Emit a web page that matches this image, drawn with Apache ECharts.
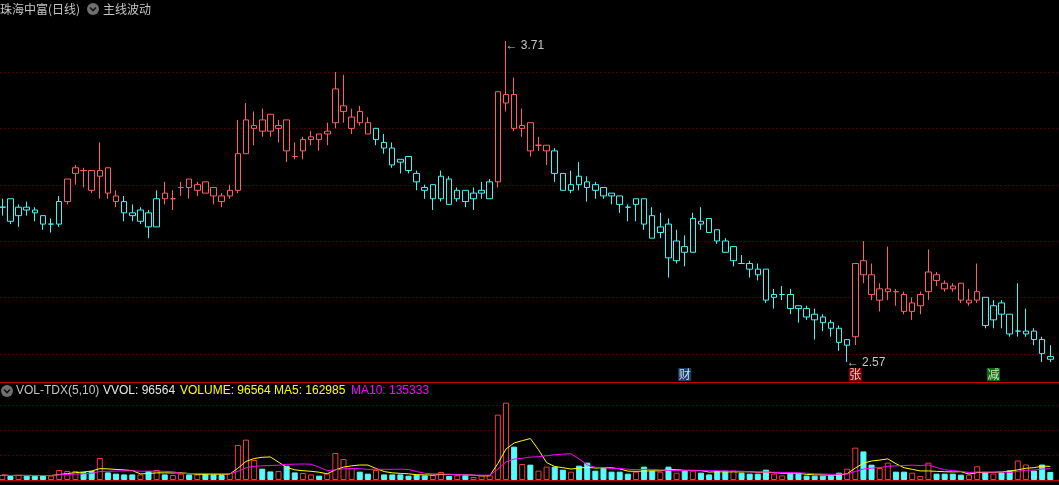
<!DOCTYPE html>
<html><head><meta charset="utf-8">
<script src="https://cdn.jsdelivr.net/npm/echarts@6/dist/echarts.min.js"></script>
<style>html,body{margin:0;padding:0;background:#000;overflow:hidden}#c{width:1059px;height:485px;}</style>
</head><body><div id="c"></div>
<script>
// ---- data (price in yuan, volume in shares) ----
const open = [3.12,3.15,3.09,3.12,3.11,3.09,3.06,3.06,3.14,3.24, 3.25,3.25,3.23,3.26,3.16,3.14,3.10,3.07,3.10,3.05,
  3.17,3.15,3.19,3.22,3.18,3.21,3.19,3.16,3.16,3.18, 3.31,3.40,3.43,3.45,3.40,3.43,3.30,3.32,3.36,3.38,
  3.38,3.42,3.46,3.40,3.46,3.42,3.36,3.35,3.33,3.29, 3.30,3.24,3.19,3.15,3.15,3.22,3.15,3.18,3.15,3.17,
  3.15,3.21,3.49,3.52,3.40,3.42,3.34,3.32,3.32,3.24, 3.18,3.23,3.21,3.20,3.19,3.17,3.16,3.12,3.13,3.15,
  3.09,3.03,3.06,2.93,2.98,2.96,3.07,3.08,3.04,3.00, 2.93,2.92,2.92,2.90,2.90,2.80,2.81,2.81,2.77,2.76,
  2.74,2.73,2.71,2.69,2.63,2.66,2.93,2.88,2.79,2.82, 2.82,2.81,2.75,2.77,2.82,2.88,2.85,2.84,2.85,2.78,
  2.79,2.80,2.72,2.78,2.74,2.68,2.67,2.68,2.65,2.59];
const close = [3.12,3.07,3.12,3.11,3.10,3.06,3.06,3.14,3.22,3.26, 3.25,3.18,3.25,3.17,3.14,3.10,3.09,3.11,3.05,3.15,
  3.15,3.15,3.19,3.19,3.20,3.17,3.16,3.14,3.18,3.31, 3.43,3.41,3.39,3.39,3.41,3.32,3.30,3.36,3.37,3.36,
  3.39,3.54,3.48,3.44,3.42,3.38,3.40,3.33,3.27,3.28, 3.25,3.21,3.18,3.20,3.23,3.13,3.18,3.14,3.17,3.18,
  3.21,3.53,3.52,3.40,3.41,3.32,3.34,3.34,3.24,3.18, 3.20,3.20,3.19,3.18,3.16,3.16,3.13,3.12,3.15,3.06,
  3.01,3.05,2.94,3.00,2.96,3.08,3.06,3.03,3.00,2.96, 2.98,2.92,2.90,2.88,2.79,2.81,2.81,2.76,2.76,2.73,
  2.72,2.71,2.69,2.64,2.65,2.92,2.88,2.81,2.83,2.83, 2.82,2.75,2.78,2.81,2.89,2.86,2.83,2.83,2.79,2.79,
  2.82,2.70,2.77,2.74,2.67,2.68,2.68,2.65,2.60,2.58];
const low = [3.09,3.06,3.05,3.09,3.07,3.04,3.03,3.05,3.13,3.20, 3.19,3.17,3.15,3.15,3.12,3.07,3.07,3.06,3.01,3.05,
  3.13,3.11,3.16,3.15,3.16,3.17,3.13,3.12,3.15,3.17, 3.31,3.34,3.37,3.37,3.35,3.28,3.29,3.29,3.34,3.32,
  3.34,3.40,3.42,3.38,3.41,3.38,3.34,3.31,3.26,3.24, 3.24,3.18,3.15,3.11,3.14,3.13,3.14,3.12,3.11,3.15,
  3.15,3.19,3.46,3.39,3.37,3.30,3.32,3.27,3.21,3.18, 3.17,3.18,3.14,3.15,3.15,3.13,3.10,3.07,3.07,3.04,
  3.01,3.01,2.87,2.92,2.91,2.96,3.04,3.03,2.99,2.96, 2.91,2.92,2.87,2.86,2.78,2.76,2.79,2.74,2.71,2.72,
  2.65,2.68,2.66,2.61,2.57,2.63,2.85,2.79,2.75,2.79, 2.77,2.74,2.72,2.74,2.79,2.84,2.82,2.82,2.78,2.77,
  2.78,2.69,2.69,2.69,2.66,2.66,2.66,2.63,2.57,2.57];
const high = [3.15,3.15,3.13,3.14,3.12,3.09,3.08,3.16,3.22,3.27, 3.26,3.25,3.35,3.26,3.18,3.16,3.13,3.12,3.11,3.18,
  3.21,3.18,3.21,3.22,3.21,3.21,3.19,3.17,3.20,3.43, 3.49,3.46,3.47,3.45,3.43,3.43,3.35,3.37,3.39,3.38,
  3.42,3.60,3.59,3.47,3.48,3.44,3.40,3.38,3.35,3.29, 3.30,3.25,3.20,3.20,3.25,3.23,3.19,3.18,3.19,3.21,
  3.22,3.53,3.71,3.58,3.47,3.42,3.37,3.34,3.33,3.24, 3.25,3.28,3.23,3.21,3.19,3.17,3.16,3.13,3.15,3.15,
  3.12,3.10,3.08,3.04,3.02,3.10,3.12,3.08,3.04,3.01, 2.98,2.95,2.93,2.92,2.90,2.83,2.84,2.83,2.77,2.77,
  2.76,2.74,2.72,2.70,2.65,2.92,3.00,2.92,2.85,2.98, 2.83,2.82,2.80,2.82,2.97,2.89,2.86,2.85,2.85,2.83,
  2.92,2.80,2.79,2.79,2.74,2.85,2.76,2.69,2.66,2.63];
const volume = [60000,48000,60000,52000,52000,52000,52000,120000,108000,108000,
  96000,108000,264000,91000,76000,67000,67000,67000,108000,120000,
  67000,60000,76000,67000,67000,76000,67000,60000,84000,420000,
  484000,240000,136000,103000,108000,172000,91000,84000,67000,52000,
  79000,324000,252000,144000,100000,76000,120000,67000,67000,67000,
  52000,64000,55000,60000,96000,48000,55000,55000,36000,55000,
  55000,784000,928000,400000,192000,184000,112000,160000,160000,124000,
  100000,172000,208000,112000,144000,100000,100000,76000,100000,160000,
  112000,100000,160000,88000,120000,112000,88000,67000,108000,112000,
  112000,88000,76000,76000,124000,76000,55000,76000,76000,52000,
  52000,52000,52000,88000,136000,388000,343000,184000,144000,208000,
  100000,100000,88000,48000,208000,76000,76000,76000,64000,64000,
  164600,90400,78000,90400,115005,234200,185700,112900,185561,96564];
// 主线波动 state per bar: 1 = main-line rising (red), 0 = falling (cyan)
const trend = [0,0,0,0,0,0,0,0,1,1, 1,1,1,1,1,0,0,0,0,0, 1,1,1,1,1,1,1,1,1,1, 1,1,1,1,1,1,1,1,1,1,
  1,1,1,1,1,1,0,0,0,0, 0,0,0,0,0,0,0,0,0,0, 0,1,1,1,1,1,1,1,0,0, 0,0,0,0,0,0,0,0,0,0,
  0,0,0,0,0,0,0,0,0,0, 0,0,0,0,0,0,0,0,0,0, 0,0,0,0,0,1,1,1,1,1, 1,1,1,1,1,1,1,1,1,1,
  1,0,0,0,0,0,0,0,0,0];
const priceGridLines = [2.6, 2.8, 3.0, 3.2, 3.4, 3.6];
const volGridLines = [300000, 600000, 900000];
const eventIdx = [84, 105, 122];
const eventText = ['财', '张', '减'];
const eventColor = ['#1d4f86', '#9a0a0a', '#0b8a0b'];
const stockTitle = '珠海中富(日线)';
const indicatorName = '主线波动';

// ---- styles ----
const RED_K = '#ff5f5f', CYAN_K = '#40f6f6';
const VOL_RED = '#f53a3a', VOL_CYAN = '#54fcfc';
const GRID_DOT = '#a00000';
const TXT = '#c4c4c4';
const EVENT_Y = 2.526;

const categories = open.map((_, i) => String(i + 1));
const kData = open.map((o, i) => {
  const col = trend[i] ? RED_K : CYAN_K;
  return { value: [o, close[i], low[i], high[i]],
    itemStyle: { color: '#000', color0: '#000', borderColor: col, borderColor0: col, borderColorDoji: col, borderWidth: 1 } };
});
const isUp = i => close[i] > open[i] || (close[i] === open[i] && (i === 0 || close[i] >= close[i - 1]));
const volData = volume.map((v, i) => isUp(i)
  ? { value: v, itemStyle: { color: '#000', borderColor: VOL_RED, borderWidth: 1 } }
  : { value: v, itemStyle: { color: VOL_CYAN, borderColor: VOL_CYAN, borderWidth: 1 } });
function ma(arr, n) {
  return arr.map((_, i) => { const s = Math.max(0, i - n + 1); let t = 0; for (let k = s; k <= i; k++) t += arr[k]; return t / (i - s + 1); });
}
const ma5 = ma(volume, 5), ma10 = ma(volume, 10);
const last = volume.length - 1;

const GL = -1.76, GW = 1056.1;
const chart = echarts.init(document.getElementById('c'), null, { renderer: 'canvas' });
const font12 = '12px "Liberation Sans", Arial, sans-serif';
const cjk12 = '12px "Noto Sans CJK SC", sans-serif';
function txt(x, y, text, fill, font) {
  return { type: 'text', x, y, silent: true, z: 10, style: { text, fill, font, verticalAlign: 'middle', textVerticalAlign: 'middle' } };
}
function icon(cx, cy) {
  return [
    { type: 'circle', silent: true, z: 10, shape: { cx, cy, r: 6 }, style: { fill: '#707070' } },
    { type: 'polyline', silent: true, z: 11, shape: { points: [[cx - 3, cy - 1.5], [cx, cy + 1.5], [cx + 3, cy - 1.5]] }, style: { stroke: '#111', lineWidth: 1.6, fill: null } }
  ];
}

const baseGraphic = [
  { type: 'line', silent: true, z: 9, shape: { x1: 0, y1: 382.5, x2: 1059, y2: 382.5 }, style: { stroke: '#c40000', lineWidth: 1 } },
  { type: 'line', silent: true, z: 9, shape: { x1: 0, y1: 480.5, x2: 1059, y2: 480.5 }, style: { stroke: '#c40000', lineWidth: 1 } },
  txt(0, 9, stockTitle, TXT, cjk12),
  ...icon(93, 9),
  txt(103, 9, indicatorName, TXT, cjk12),
  ...icon(7, 391),
  txt(16, 391, 'VOL-TDX(5,10)', TXT, font12),
  txt(103, 391, 'VVOL: ' + Math.round(volume[last]), '#e6e6e6', font12),
  txt(180, 391, 'VOLUME: ' + Math.round(volume[last]), '#ffff00', font12),
  txt(274, 391, 'MA5: ' + Math.round(ma5[last]), '#ffff00', font12),
  txt(351, 391, 'MA10: ' + Math.round(ma10[last]), '#ff00ff', font12)
];

const option = {
  backgroundColor: '#000',
  animation: false,
  grid: [
    { left: GL, width: GW, top: 15.7, height: 366.1, outerBoundsMode: 'none' },
    { left: GL, width: GW, top: 380, height: 100, outerBoundsMode: 'none' }
  ],
  xAxis: [
    { type: 'category', data: categories, gridIndex: 0, boundaryGap: true, show: false },
    { type: 'category', data: categories, gridIndex: 1, boundaryGap: true, show: false }
  ],
  yAxis: [
    { type: 'value', gridIndex: 0, min: 2.5, max: 3.8, show: false, splitLine: { show: false } },
    { type: 'value', gridIndex: 1, min: 0, max: 1200000, show: false, splitLine: { show: false } }
  ],
  series: [
    {
      type: 'candlestick', xAxisIndex: 0, yAxisIndex: 0, data: kData, barWidth: 6, z: 3,
      markPoint: { silent: true, symbol: 'circle', symbolSize: 1, itemStyle: { color: 'rgba(0,0,0,0)' },
        label: { show: true, position: 'right', color: TXT, fontSize: 12, fontFamily: '"Liberation Sans", "DejaVu Sans", sans-serif',
          formatter: p => '\u2190 ' + Number(p.value).toFixed(2) },
        data: [
          { type: 'max', valueDim: 'highest', label: { offset: [-6, 5] } },
          { type: 'min', valueDim: 'lowest', label: { offset: [-6, 1] } }
        ] }
    },
    {
      type: 'scatter', xAxisIndex: 0, yAxisIndex: 0, symbol: 'rect', symbolSize: [13, 13], silent: true, z: 5,
      label: { show: true, position: 'inside', color: '#fff', fontSize: 12, fontFamily: '"Noto Sans CJK SC", sans-serif' },
      data: eventIdx.map((idx, k) => ({ value: [idx, EVENT_Y], itemStyle: { color: eventColor[k] }, label: { formatter: eventText[k] } }))
    },
    { type: 'bar', xAxisIndex: 1, yAxisIndex: 1, data: volData, barWidth: 6, z: 2 },
    { type: 'line', xAxisIndex: 1, yAxisIndex: 1, data: ma5, showSymbol: false, silent: true, z: 4,
      lineStyle: { color: '#ffff00', width: 1 } },
    { type: 'line', xAxisIndex: 1, yAxisIndex: 1, data: ma10, showSymbol: false, silent: true, z: 5,
      lineStyle: { color: '#ff00ff', width: 1 } }
  ],
  graphic: baseGraphic
};
chart.setOption(option);

// dotted grid lines, positioned through the axes' own scales, snapped to pixel rows
function dotted(y) {
  const yy = Math.round(y) + 0.5;
  return { type: 'line', silent: true, z: 1, shape: { x1: 0.5, y1: yy, x2: 1059, y2: yy },
    style: { stroke: GRID_DOT, lineWidth: 1, lineDash: [1, 3] } };
}
const gridGraphic = [
  ...priceGridLines.map(v => dotted(chart.convertToPixel({ yAxisIndex: 0 }, v))),
  ...volGridLines.map(v => dotted(chart.convertToPixel({ yAxisIndex: 1 }, v)))
];
chart.setOption({ graphic: baseGraphic.concat(gridGraphic) });
</script>
</body></html>
